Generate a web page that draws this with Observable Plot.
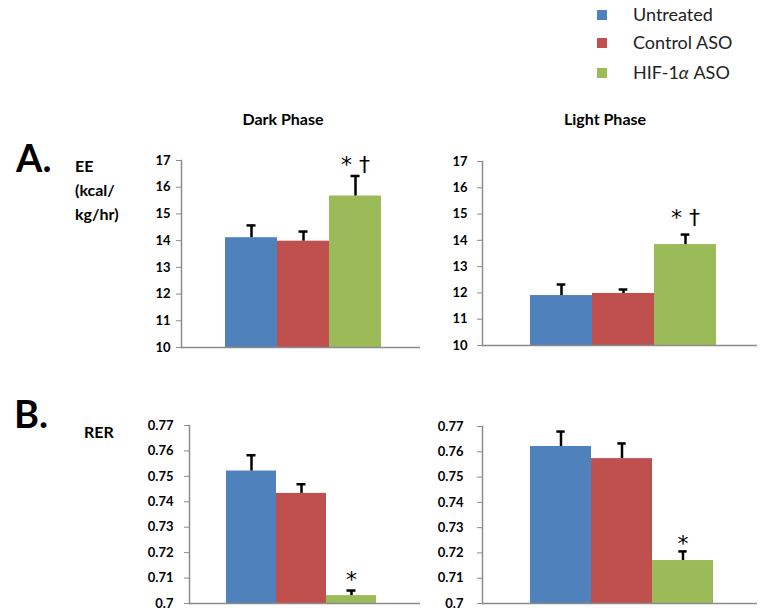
<!DOCTYPE html>
<html><head><meta charset="utf-8">
<script src="https://cdn.jsdelivr.net/npm/d3@7"></script>
<script src="https://cdn.jsdelivr.net/npm/@observablehq/plot@0.6"></script>
<style>
body{margin:0;background:#fff;}
#root{position:relative;width:768px;height:615px;font-family:Lato,"Open Sans",sans-serif;color:#000;overflow:hidden;}
.abs{position:absolute;white-space:nowrap;}
.t{font-weight:bold;font-size:16px;transform:translate(-50%,-50%);}
.sw{width:10px;height:10px;}
.lg{font-size:18px;color:#222;transform:translateY(-50%);}
</style></head><body><div id="root"></div>
<script>
// ---- data ----
const groups = ["Untreated", "Control ASO", "HIF-1α ASO"];
const colors = ["#4F81BD", "#C0504D", "#9BBB59"];
const phases = ["Dark Phase", "Light Phase"];

const eeDark = [14.11, 13.98, 15.67];
const eeDarkErr = [0.46, 0.36, 0.75];
const eeLight = [11.90, 11.98, 13.84];
const eeLightErr = [0.42, 0.15, 0.38];

const rerDark = [0.7521, 0.7433, 0.7031];
const rerDarkErr = [0.0062, 0.0036, 0.0020];
const rerLight = [0.7621, 0.7573, 0.7170];
const rerLightErr = [0.0059, 0.0060, 0.0036];

const eeSig = ["", "", "* †"];
const rerSig = ["", "", "*"];

const eeTicks = [10, 11, 12, 13, 14, 15, 16, 17];
const rerTicks = [0.70, 0.71, 0.72, 0.73, 0.74, 0.75, 0.76, 0.77];

const root = document.getElementById("root");

function add(html, cls, left, top) {
  const d = document.createElement("div");
  d.className = "abs " + cls;
  d.style.left = left + "px";
  d.style.top = top + "px";
  d.innerHTML = html;
  root.appendChild(d);
  return d;
}

function panel(o) {
  const data = groups.map((g, i) => ({g, v: o.values[i], e: o.errs[i], s: o.sig[i]}));
  const ml = 50, mr = 5, mt = 20, mb = 5;
  const width = o.right - o.axisX + ml + mr;
  const height = o.yBottom - o.yTop + mt + mb;
  const band = (o.right - o.axisX - o.insetL - o.insetR) / groups.length;
  const capInset = (band - 9) / 2;
  const y0 = o.ticks[0];
  const chart = Plot.plot({
    width, height,
    marginLeft: ml, marginRight: mr, marginTop: mt, marginBottom: mb,
    style: {fontFamily: "Lato, 'Open Sans', sans-serif", fontSize: "13px", fontWeight: "bold", color: "#000", background: "transparent", overflow: "visible"},
    x: {domain: groups, padding: 0, insetLeft: o.insetL, insetRight: o.insetR, axis: null},
    y: {domain: [o.ticks[0], o.ticks[o.ticks.length - 1]]},
    color: {domain: groups, range: colors},
    marks: [
      Plot.barY(data, {x: "g", y1: y0, y2: "v", fill: "g"}),
      Plot.ruleX(data, {x: "g", y1: "v", y2: d => d.v + d.e, stroke: "#000", strokeWidth: 2.5}),
      Plot.tickY(data, {x: "g", y: d => d.v + d.e, stroke: "#000", strokeWidth: 2.5, inset: capInset}),
      Plot.text(data, {x: "g", y: d => d.v + d.e, text: "s", dy: o.sigDy, fontSize: 22, fontWeight: "normal",
        fontFamily: "'DejaVu Sans', sans-serif", lineAnchor: "bottom", fill: "#000"}),
      Plot.ruleY([y0], {stroke: "#8c8c8c", strokeWidth: 1.5}),
      Plot.frame({anchor: "left", stroke: "#8c8c8c", strokeWidth: 1.5}),
      Plot.axisY({ticks: o.ticks, tickSize: 5, tickPadding: o.tickPad, stroke: "#8c8c8c", fill: "#000",
        tickFormat: d => String(+d.toFixed(2)), label: null, fontWeight: "bold", fontSize: 13})
    ]
  });
  chart.style.position = "absolute";
  chart.style.left = (o.axisX - ml) + "px";
  chart.style.top = (o.yTop - mt) + "px";
  root.appendChild(chart);
}

panel({values: eeDark, errs: eeDarkErr, sig: eeSig, ticks: eeTicks,
  axisX: 181, right: 420, yTop: 160, yBottom: 347, insetL: 44, insetR: 39, tickPad: 6, sigDy: -4});
panel({values: eeLight, errs: eeLightErr, sig: eeSig, ticks: eeTicks,
  axisX: 482, right: 757, yTop: 161, yBottom: 345, insetL: 47, insetR: 41, tickPad: 10, sigDy: -10});
panel({values: rerDark, errs: rerDarkErr, sig: rerSig, ticks: rerTicks,
  axisX: 189, right: 420, yTop: 425, yBottom: 603, insetL: 37, insetR: 44, tickPad: 11, sigDy: -4});
panel({values: rerLight, errs: rerLightErr, sig: rerSig, ticks: rerTicks,
  axisX: 482, right: 757, yTop: 426, yBottom: 603, insetL: 47, insetR: 43, tickPad: 14, sigDy: 0});

// titles
add(phases[0], "t", 283, 118);
add(phases[1], "t", 605, 118);

// panel letters and y labels
add("A.", "", 16, 134).style.cssText += "font-size:38px;font-weight:bold;";
add("EE<br>(kcal/<br>kg/hr)", "", 75, 154).style.cssText += "font-size:16px;font-weight:bold;line-height:24px;";
add("B.", "", 14, 390).style.cssText += "font-size:38px;font-weight:bold;";
add("RER", "", 84, 422).style.cssText += "font-size:16px;font-weight:bold;";

// legend
const legendY = [15, 43, 73];
groups.forEach((g, i) => {
  const sw = add("", "sw", 597, legendY[i] - 5);
  sw.style.background = colors[i];
  add(g.replace("α", "<i>α</i>"), "lg", 633, legendY[i] - 1);
});
</script>
</body></html>
